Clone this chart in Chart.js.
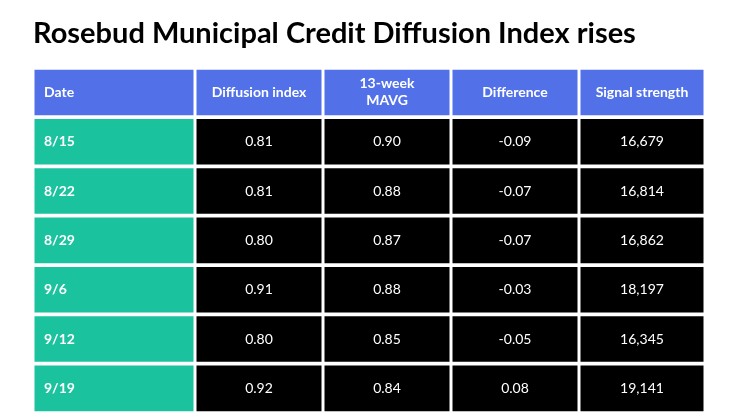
<!DOCTYPE html>
<html><head><meta charset="utf-8">
<script src="https://cdn.jsdelivr.net/npm/chart.js@4"></script>
<style>body{margin:0;background:#fff}#w{width:740px;height:416px}</style>
</head><body><div id="w"><canvas id="c"></canvas></div>
<script>
const headers = ['Date','Diffusion index','13-week\nMAVG','Difference','Signal strength'];
const dates = ['8/15','8/22','8/29','9/6','9/12','9/19'];
const diffusion = ['0.81','0.81','0.80','0.91','0.80','0.92'];
const mavg = ['0.90','0.88','0.87','0.88','0.85','0.84'];
const difference = ['-0.09','-0.07','-0.07','-0.03','-0.05','0.08'];
const signal = ['16,679','16,814','16,862','18,197','16,345','19,141'];

const columns = [dates, diffusion, mavg, difference, signal];
const colWidths = [162, 128, 128, 128, 126];
const edges = [0]; colWidths.forEach(w => edges.push(edges[edges.length-1] + w));
const rowLabels = ['h', ...dates];

const datasets = columns.map((col, ci) => ({
  data: rowLabels.map(() => [edges[ci], edges[ci+1]]),
  backgroundColor: ctx => ctx.dataIndex === 0 ? '#5271e9' : (ci === 0 ? '#1bc29e' : '#000000'),
  borderColor: '#ffffff', borderWidth: 1.5, borderSkipped: false,
  grouped: false, categoryPercentage: 1, barPercentage: 0.985
}));

const textPlugin = {
  id: 'cellText',
  afterDatasetsDraw(chart) {
    const {ctx, scales: {x, y}} = chart;
    ctx.save();
    ctx.fillStyle = '#fff';
    ctx.textBaseline = 'middle';
    rowLabels.forEach((r, ri) => {
      const yc = y.getPixelForValue(ri);
      columns.forEach((col, ci) => {
        const txt = ri === 0 ? headers[ci] : col[ri-1];
        const bold = ri === 0 || ci === 0;
        ctx.font = (bold ? 'bold ' : '') + '14px Lato';
        let xp;
        if (ci === 0) { ctx.textAlign = 'left'; xp = x.getPixelForValue(edges[0]) + 11; }
        else { ctx.textAlign = 'center'; xp = x.getPixelForValue((edges[ci]+edges[ci+1])/2); }
        const lines = txt.split('\n');
        lines.forEach((l, li) => ctx.fillText(l, xp, yc + (li - (lines.length-1)/2) * 17));
      });
    });
    ctx.restore();
  }
};

new Chart(document.getElementById('c'), {
  type: 'bar',
  data: { labels: rowLabels, datasets },
  options: {
    indexAxis: 'y', responsive: true, maintainAspectRatio: false, animation: false,
    layout: { padding: { left: 33, right: 35, top: 0, bottom: 3 } },
    scales: {
      x: { type: 'linear', min: 0, max: edges[edges.length-1], display: false },
      y: { type: 'category', display: false }
    },
    plugins: {
      legend: { display: false }, tooltip: { enabled: false },
      title: { display: true, text: 'Rosebud Municipal Credit Diffusion Index rises', align: 'start',
        color: '#000', font: { family: 'Lato', size: 29, weight: 'bold' }, padding: { top: 16, bottom: 17 } }
    }
  },
  plugins: [textPlugin]
});
</script></body></html>
